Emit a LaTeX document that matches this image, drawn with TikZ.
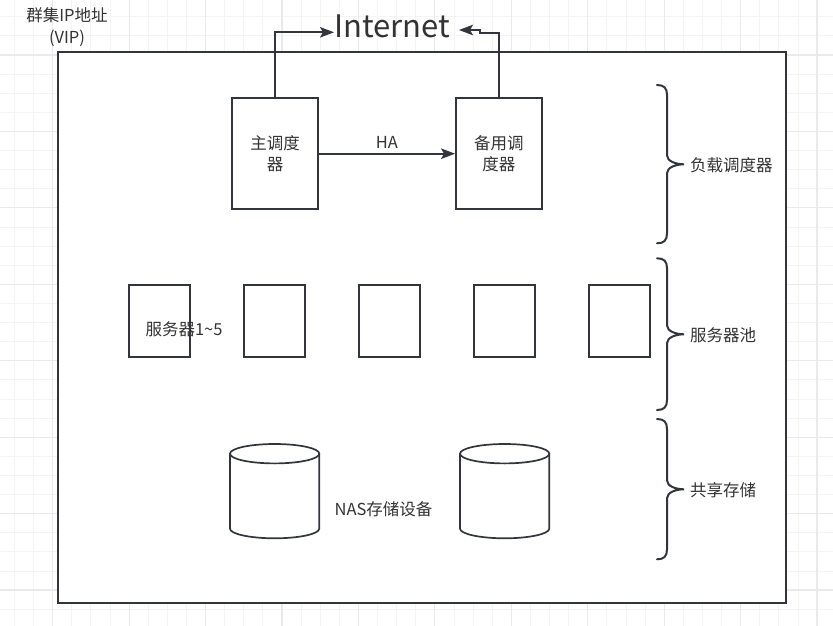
\documentclass[tikz,border=0pt]{standalone}
\usepackage{fontspec}
\setmainfont{Noto Sans CJK SC}
\usetikzlibrary{arrows.meta}
\definecolor{ln}{RGB}{50,54,60}
\definecolor{tx}{RGB}{51,51,51}
\definecolor{gmin}{RGB}{244,244,244}
\definecolor{gmaj}{RGB}{234,234,234}
\newcommand\mycyl[4]{%
  \pgfmathsetmacro\cx{(#1+#2)/2}%
  \pgfmathsetmacro\rx{(#2-#1)/2}%
  \fill[white] (#1,#3+9.7) rectangle (#2,#4-9.7);
  \draw[cylst] (#1,#3+9.7) -- (#1,#4-9.7)
     .. controls (#1,#4-4.36) and (\cx-0.5523*\rx,#4) .. (\cx,#4)
     .. controls (\cx+0.5523*\rx,#4) and (#2,#4-4.36) .. (#2,#4-9.7)
     -- (#2,#3+9.7);
  \draw[cylst] (\cx,#3+9.7) ellipse[x radius=\rx, y radius=9.7];
}
\newcommand\mybrace[3]{%
  \draw[bracest] (657,#1) .. controls (664,#1) and (667,#1+3) .. (667,#1+10)
     -- (667,#2-9) .. controls (667,#2-3) and (676,#2) .. (684,#2)
     .. controls (676,#2) and (667,#2+3) .. (667,#2+9)
     -- (667,#3-10) .. controls (667,#3-3) and (664,#3) .. (657,#3);
}
\begin{document}
\begin{tikzpicture}[x=1pt,y=-1pt,
  box/.style={draw=ln, line width=2pt, fill=white, inner sep=0pt, text=tx,
    font=\fontsize{16.5}{21}\selectfont, align=center},
  lbl/.style={text=tx, font=\fontsize{16.5}{21}\selectfont, inner sep=0pt, align=center},
  arr/.style={draw=ln, line width=1.7pt, -{Stealth[length=14pt,width=10.5pt,inset=3pt]}},
  cylst/.style={draw=ln, line width=1.7pt},
  bracest/.style={draw=ln, line width=2pt, line cap=round},
  gridmin/.style={draw=gmin, line width=1pt},
  gridmaj/.style={draw=gmaj, line width=1.2pt}]
\useasboundingbox (0,0) rectangle (833,626);
\fill[white] (0,0) rectangle (833,626);
% grid
\foreach \i in {0,...,43} {\draw[gridmin] (14.5+19.11*\i,0) -- (14.5+19.11*\i,626);}
\foreach \i in {0,...,33} {\draw[gridmin] (0,-2.3+19.11*\i) -- (833,-2.3+19.11*\i);}
\foreach \i in {0,...,10} {\draw[gridmaj] (52.7+76.43*\i,0) -- (52.7+76.43*\i,626);}
\foreach \i in {0,...,8} {\draw[gridmaj] (0,55+76.43*\i) -- (833,55+76.43*\i);}
% outer box
\node[draw=ln, line width=2.2pt, fill=white, minimum width=727.4pt, minimum height=551.3pt, inner sep=0pt] (outer) at (422,327.65) {};
% labels at top
\node[lbl, font=\fontsize{16.5}{22}\selectfont] (vip) at (67,27) {群集IP地址\\(VIP)};
\node[text=tx, inner sep=0pt, anchor=base west, font=\fontsize{31}{34}\selectfont] (internet) at (334,38) {Internet};
% schedulers
\node[box, minimum width=85.5pt, minimum height=111pt] (main) at (275,153.7) {主调度\\器};
\node[box, minimum width=85.7pt, minimum height=111pt] (backup) at (498.9,153.7) {备用调\\度器};
\draw[arr] (main.east) -- (backup.west) node[midway, lbl, above=4pt] (ha) {HA};
\draw[arr] (main.north) |- ([yshift=5.7pt]internet.base west);
\coordinate (inR) at (459,30);
\draw[arr] (backup.north) |- (480,32.7) -- (480,30) -- (inR);
% servers
\foreach \k in {1,...,5} {
  \node[box, minimum width=61.5pt, minimum height=72pt] (s\k) at (44.5+115*\k,321.2) {};
}
\node[lbl] (slabel) at (184,329) {服务器1\textasciitilde5};
% storage
\mycyl{230}{319.3}{444}{538.3}
\mycyl{460}{549.3}{444}{538.3}
\node[lbl] (nas) at (383.5,509) {NAS存储设备};
% braces
\mybrace{85}{164.3}{243.3}
\mybrace{258.3}{334.3}{410}
\mybrace{419}{489.3}{559.3}
\node[lbl, anchor=west] (b1) at (690,165.5) {负载调度器};
\node[lbl, anchor=west] (b2) at (690,335.5) {服务器池};
\node[lbl, anchor=west] (b3) at (690,490.5) {共享存储};
\end{tikzpicture}
\end{document}
